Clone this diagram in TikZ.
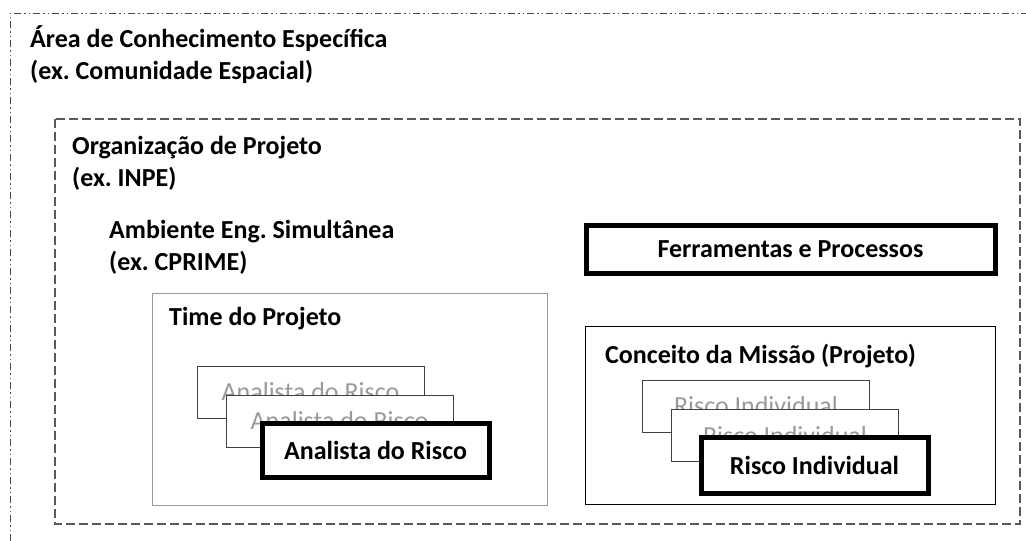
\documentclass[tikz,border=0pt]{standalone}
\usepackage{fontspec}
\setmainfont{Carlito}
\frenchspacing
\begin{document}
\begin{tikzpicture}[x=1pt, y=-1pt,
  title/.style={anchor=base west, align=left, inner sep=0pt,
    font=\fontsize{26}{32}\selectfont\bfseries},
  backbox/.style={draw=black!75, fill=white, line width=1pt, inner sep=0pt,
    minimum width=227pt, minimum height=52pt, text=black!40,
    font=\fontsize{26}{32}\selectfont},
  frontbox/.style={draw=black, fill=white, line width=5pt, inner sep=0pt,
    minimum width=227pt, minimum height=54pt,
    font=\fontsize{26}{32}\selectfont\bfseries}]

  \useasboundingbox (0,0) rectangle (1026,541);

  % area de conhecimento
  \draw[black!70, line width=0.8pt, dash pattern=on 7pt off 3pt on 1.5pt off 3pt on 1.5pt off 3pt]
    (10,541) -- (10,13) -- (1026,13);
  \node[title] (area) at (30,79) {Área de Conhecimento Específica\\(ex. Comunidade Espacial)};

  % organizacao
  \draw[black!65, line width=1.5pt, dash pattern=on 9pt off 4pt] (55,119) rectangle (1020,524);
  \node[title] (org) at (72,186) {Organização de Projeto\\(ex. INPE)};

  \node[title] (amb) at (109,270) {Ambiente Eng. Simultânea\\(ex. CPRIME)};

  % time do projeto
  \draw[black!40, line width=1pt] (152,293) rectangle (547,505);
  \node[title] (time) at (169,325) {Time do Projeto};

  \node[backbox] (analista1) at (310.5,392) {Analista do Risco};
  \node[backbox] (analista2) at (339.5,421) {Analista do Risco};
  \node[frontbox] (analista3) at (375.5,450.5) {Analista do Risco};

  % ferramentas
  \node[frontbox, minimum width=409pt, minimum height=48pt] (ferr) at (790.5,249) {Ferramentas e Processos};

  % conceito da missao
  \draw[black, line width=1pt] (585,326) rectangle (995,504);
  \node[title] (conceito) at (605,363) {Conceito da Missão (Projeto)};

  \node[backbox] (risco1) at (756,406) {Risco Individual};
  \node[backbox] (risco2) at (785,435.5) {Risco Individual};
  \node[frontbox, minimum height=56pt] (risco3) at (814.5,465) {Risco Individual};

\end{tikzpicture}
\end{document}
